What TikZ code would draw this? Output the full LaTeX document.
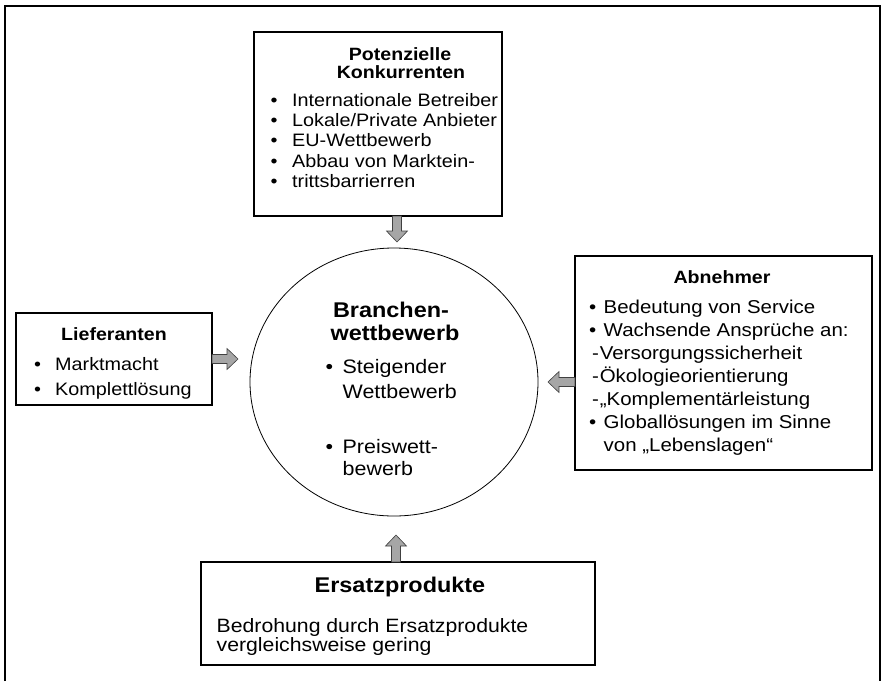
\documentclass[tikz,border=0pt]{standalone}
\usepackage{fontspec}
\setmainfont{Liberation Sans}[FakeStretch=1.1]
\usetikzlibrary{shapes.geometric}
\newcommand\bul[1]{\makebox[#1pt][l]{•}}
\newcommand\blockarrow[3]{\draw[barrow, shift={#1}, rotate=#2] (0,-4.5) -- (#3-11,-4.5) -- (#3-11,-10.5) -- (#3,0) -- (#3-11,10.5) -- (#3-11,4.5) -- (0,4.5) -- cycle;}
\begin{document}
\begin{tikzpicture}[x=1pt,y=-1pt,
  box/.style={draw=black, line width=1.3pt, inner sep=0pt, outer sep=0pt, anchor=north west},
  frame/.style={line width=1.6pt},
  barrow/.style={draw=black!75, fill=black!35, line width=0.6pt, line join=miter},
  body/.style={inner sep=0pt, anchor=base west, font=\fontsize{18}{21}\selectfont},
  bodyr/.style={inner sep=0pt, anchor=base west, font=\fontsize{18.6}{21}\selectfont},
  bodyc/.style={inner sep=0pt, anchor=base west, font=\fontsize{19.5}{21}\selectfont},
  bodyb/.style={inner sep=0pt, anchor=base west, font=\fontsize{19.3}{21}\selectfont},
  ttl/.style={inner sep=0pt, anchor=base, font=\fontsize{17.8}{21}\selectfont\bfseries},
  bigttl/.style={inner sep=0pt, anchor=base, font=\fontsize{21.3}{24}\selectfont\bfseries}]
\useasboundingbox (0,0) rectangle (884,681);
% outer frame (open at the bottom)
\draw[frame] (5,681) -- (5,6) -- (880,6) -- (880,681);
% boxes
\node[box, minimum width=248, minimum height=184] (kon) at (254,32) {};
\node[box, minimum width=196, minimum height=92] (lief) at (16,313) {};
\node[box, minimum width=297, minimum height=214] (abn) at (575,256) {};
\node[box, minimum width=394, minimum height=103] (ers) at (201,562) {};
\node[draw=black, line width=0.8pt, ellipse, inner sep=0pt, minimum width=288, minimum height=268] (circ) at (394,382) {};
% block arrows
\coordinate (aT) at ([xshift=19pt]kon.south);
\coordinate (aL) at (lief.east);
\coordinate (aR) at (abn.west |- circ.east);
\coordinate (aB) at ([xshift=-2pt]ers.north);
\blockarrow{(aT)}{-90}{26}
\blockarrow{(aL)}{0}{26}
\blockarrow{(aR)}{180}{27}
\blockarrow{(aB)}{90}{27}
% Potenzielle Konkurrenten
\node[ttl] (k1) at (400,60) {Potenzielle};
\node[ttl] (k2) at (401,78) {Konkurrenten};
\node[body] (k3) at (270.5,106) {\bul{21.5}Internationale Betreiber};
\node[body] (k4) at (270.5,126.3) {\bul{21.5}Lokale/Private Anbieter};
\node[body] (k5) at (270.5,146.6) {\bul{21.5}EU-Wettbewerb};
\node[body] (k6) at (270.5,167) {\bul{21.5}Abbau von Marktein-};
\node[body] (k7) at (270.5,187.3) {\bul{21.5}trittsbarrierren};
% Lieferanten
\node[ttl] (l1) at (114,340) {Lieferanten};
\node[body] (l2) at (34,370) {\bul{21}Marktmacht};
\node[body] (l3) at (34,395) {\bul{21}Komplettlösung};
% Abnehmer
\node[ttl] (a1) at (722,283) {Abnehmer};
\node[bodyr] (a2) at (589,313) {\bul{14.5}Bedeutung von Service};
\node[bodyr] (a3) at (589,336) {\bul{14.5}Wachsende Ansprüche an:};
\node[bodyr] (a4) at (592,359) {-\kern0.8pt Versorgungssicherheit};
\node[bodyr] (a5) at (592,382) {-\kern0.8pt Ökologieorientierung};
\node[bodyr] (a6) at (592,405) {-\kern0.8pt„Komplementärleistung};
\node[bodyr] (a7) at (589,428) {\bul{14.5}Globallösungen im Sinne};
\node[bodyr] (a8) at (603.5,451) {von „Lebenslagen“};
% Branchenwettbewerb
\node[bigttl] (b1) at (391,317) {Branchen-};
\node[bigttl] (b2) at (395,340) {wettbewerb};
\node[bodyc] (b3) at (325.5,373) {\bul{17}Steigender};
\node[bodyc] (b4) at (342.5,398) {Wettbewerb};
\node[bodyc] (b5) at (325.5,453) {\bul{17}Preiswett-};
\node[bodyc] (b6) at (342.5,475) {bewerb};
% Ersatzprodukte
\node[bigttl] (e1) at (400,592) {Ersatzprodukte};
\node[bodyb] (e2) at (216.5,632) {Bedrohung durch Ersatzprodukte};
\node[bodyb] (e3) at (216.5,651) {vergleichsweise gering};
\end{tikzpicture}
\end{document}
